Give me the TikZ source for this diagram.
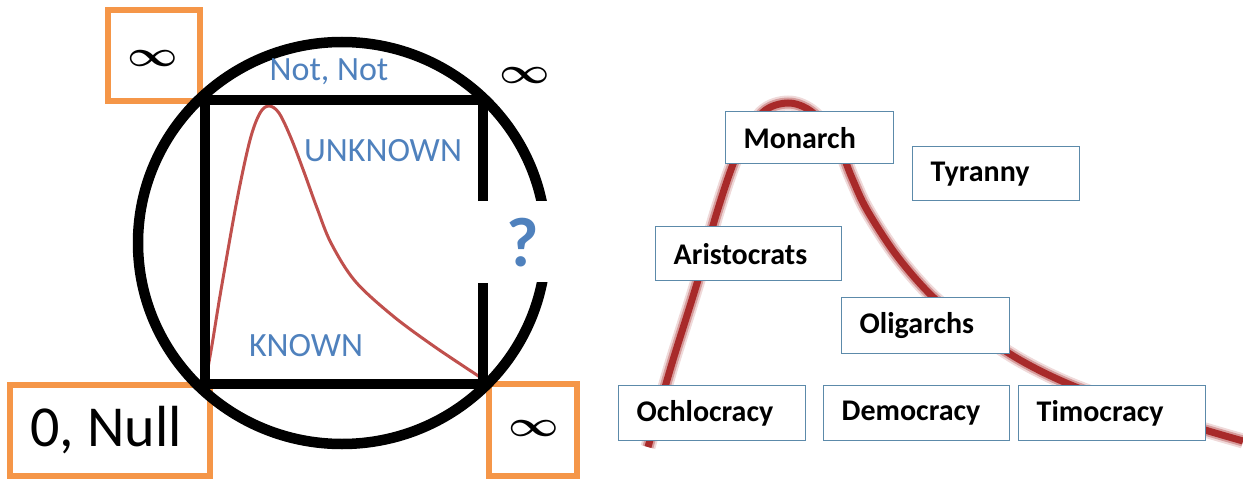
\documentclass[tikz,border=0pt]{standalone}
\usepackage{amsmath}
\usepackage{fontspec}
\setmainfont{Carlito}
\definecolor{boxorange}{RGB}{245,150,72}
\definecolor{labelblue}{RGB}{79,129,189}
\definecolor{curvered}{RGB}{192,80,77}
\definecolor{thickred}{RGB}{168,42,42}
\definecolor{govblue}{RGB}{92,138,170}
\newcommand{\infsign}{\scalebox{4.4}[3.6]{$\boldsymbol{\infty}$}}
\begin{document}
\begin{tikzpicture}[x=1pt,y=-1pt,
  orangebox/.style={draw=boxorange, line width=6pt},
  blacklines/.style={draw=black, line width=10.5pt},
  bluelabel/.style={text=labelblue, inner sep=0pt, font=\fontsize{34}{36}\selectfont},
  infnode/.style={inner sep=0pt},
  govbox/.style={draw=govblue, line width=1.4pt, fill=white, inner xsep=18pt, inner ysep=0pt,
    align=left, anchor=north west, font=\bfseries\fontsize{30}{32}\selectfont}]
\useasboundingbox (0,0) rectangle (1243,479);

% ---------------- left panel ----------------
\coordinate (sqTL) at (205,100);
\coordinate (sqTR) at (483,100);
\coordinate (sqBL) at (205,384);
\coordinate (sqBR) at (483,384);
\coordinate (gapTop) at (483,201);
\coordinate (gapBot) at (483,283);

% orange boxes
\draw[orangebox] (108,10) rectangle (200,101);
\draw[orangebox] (10,385) rectangle (210,476);
\draw[orangebox] (489,384) rectangle (577,476);

% red curve
\draw[curvered, line width=3pt, line join=round] plot[smooth, tension=0.55] coordinates {
  (205,384) (212,345) (221,290) (237,200) (250,140) (260,113) (269,106) (279,113)
  (291,138) (304,172) (317,208) (331,243) (355,281) (393,316) (435,347) (483,379)};

% ellipse and square
\draw[blacklines] (342,243) ellipse [x radius=204, y radius=201];
\fill[white] (492,201) rectangle (566,282);
\draw[blacklines, line join=miter] (gapTop) -- (sqTR) -- (sqTL) -- (sqBL) -- (sqBR) -- (gapBot);

% labels
\node[infnode] (infTL) at (153,58) {\infsign};
\node[infnode] (infTR) at (525,75) {\infsign};
\node[infnode] (infBR) at (534,428) {\infsign};
\node[inner sep=0pt, font=\fontsize{58}{60}\selectfont] (null) at (106,430) {0, Null};
\node[bluelabel] (notnot) at (329,72) {Not, Not};
\node[bluelabel] (unknown) at (383,151) {UNKNOWN};
\node[bluelabel] (known) at (306,346) {KNOWN};
\node[text=labelblue, inner sep=0pt, font=\bfseries\fontsize{70}{72}\selectfont] (quest) at (523,243) {?};

% ---------------- right panel ----------------
\def\govpath{plot[smooth, tension=0.55] coordinates {
  (648,447) (660,405) (673,360) (698,280) (717,212) (738,152) (762,113) (788,103)
  (812,112) (836,140) (852,178) (867,210) (897,256) (933,297) (975,330) (1020,360)
  (1071,385) (1140,410) (1205,430) (1243,441)}}
\draw[thickred, opacity=0.18, line width=15pt] \govpath;
\draw[thickred, opacity=0.35, line width=11pt] \govpath;
\draw[thickred, line width=7pt] \govpath;

\node[govbox, text width=132pt, minimum height=52pt] (monarch) at (725,111) {Monarch};
\node[govbox, text width=131pt, minimum height=54pt] (tyranny) at (912,146) {Tyranny};
\node[govbox, text width=150pt, minimum height=54pt] (aristo) at (655,226) {Aristocrats};
\node[govbox, text width=132pt, minimum height=56pt] (oligarchs) at (841,297) {Oligarchs};
\node[govbox, text width=151pt, minimum height=55pt] (ochlo) at (618,385) {Ochlocracy};
\node[govbox, text width=150pt, minimum height=55pt] (demo) at (823,385) {Democracy};
\node[govbox, text width=151pt, minimum height=55pt] (timo) at (1018,385) {Timocracy};
\end{tikzpicture}
\end{document}
